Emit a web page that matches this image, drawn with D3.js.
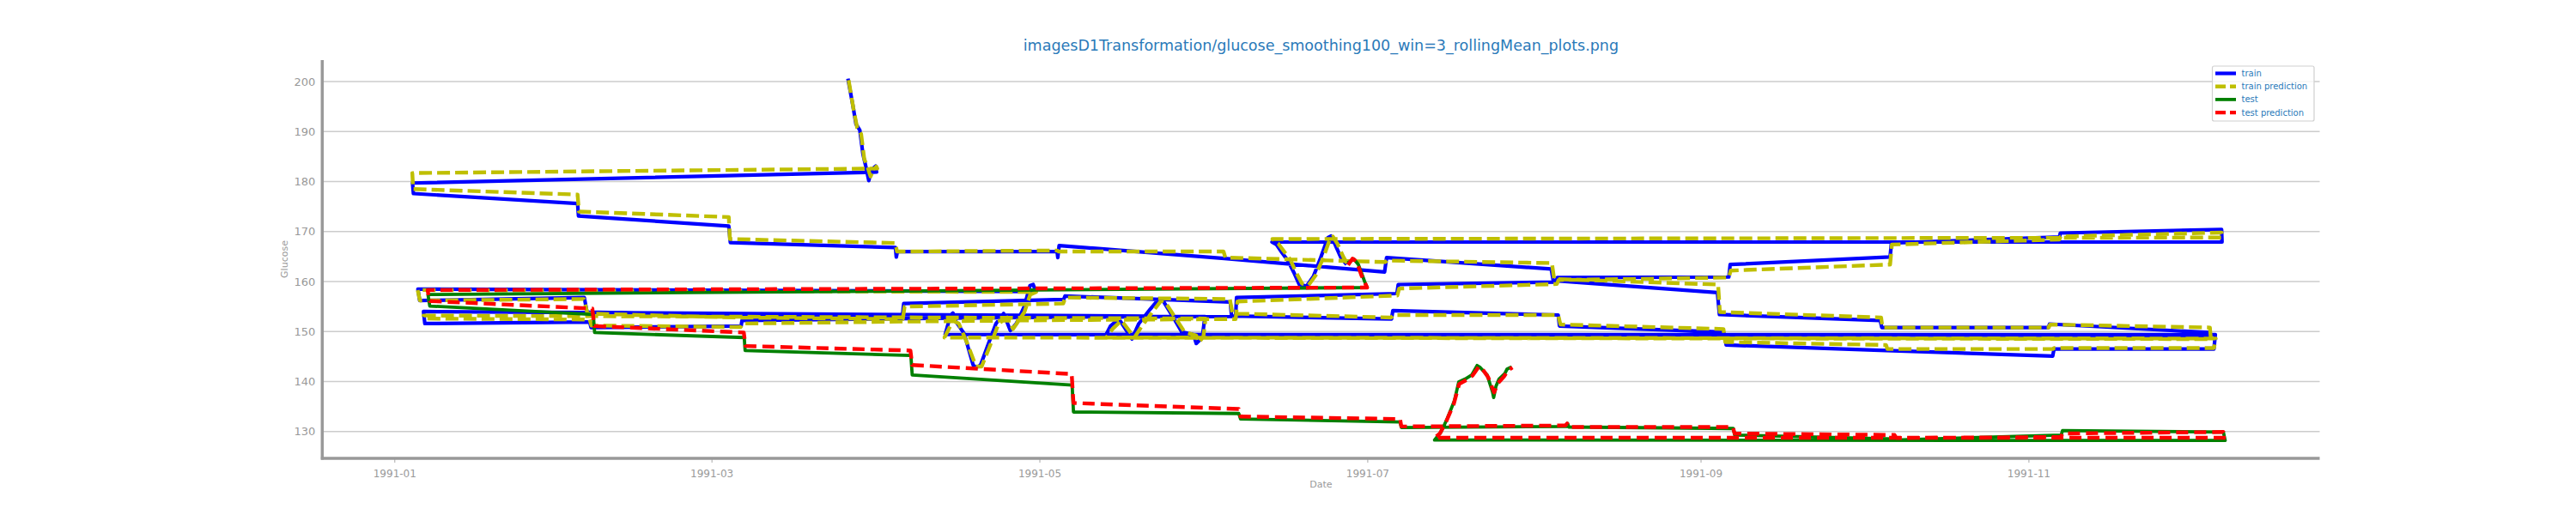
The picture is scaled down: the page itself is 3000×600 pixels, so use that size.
<!DOCTYPE html>
<html><head><meta charset="utf-8">
<script src="https://cdn.jsdelivr.net/npm/d3@7"></script>
<style>body{margin:0;background:#fff}svg{display:block}text{font-family:"DejaVu Sans",sans-serif}</style>
</head><body><svg id="c" width="3000" height="600"></svg>
<script>
const titleText = "imagesD1Transformation/glucose_smoothing100_win=3_rollingMean_plots.png";
const xLabel = "Date", yLabel = "Glucose";
const xDomain = ["1990-12-18 14", "1991-12-25 04"];
const yDomain = [124.63, 204.3];
const xTicks = ["1991-01-01 00","1991-03-01 00","1991-05-01 00","1991-07-01 00","1991-09-01 00","1991-11-01 00"];
const yTicks = [130,140,150,160,170,180,190,200];
const legendNames = ["train","train prediction","test","test prediction"];

const train = [
["1991-03-26 09",200.6],["1991-03-27 06",195.5],["1991-03-27 21",191.5],["1991-03-28 14",190.3],["1991-03-29 04",185.5],["1991-03-29 15",183.4],["1991-03-30 06",180.2],["1991-03-30 18",182.3],["1991-03-31 13",183.1],["1991-03-31 17",181.9],
["1991-01-04 09",179.7],["1991-01-04 13",177.6],["1991-02-04 02",175.6],["1991-02-04 06",173.1],["1991-03-04 05",171.1],["1991-03-04 12",167.8],["1991-04-04 05",166.8],["1991-04-04 09",164.9],["1991-04-04 14",166.0],["1991-05-04 07",166.0],["1991-05-04 10",164.8],["1991-05-04 16",167.2],["1991-06-04 10",164.6],["1991-07-04 05",161.9],["1991-07-04 14",164.8],["1991-08-04 05",162.5],["1991-08-04 14",160.2],["1991-09-04 03",157.8],["1991-09-04 12",153.4],["1991-10-04 10",152.2],["1991-10-04 17",150.8],["1991-11-04 17",150.8],["1991-11-04 22",151.5],["1991-12-04 17",149.8],["1991-12-04 20",149.2],
["1991-04-13 11",149.4],["1991-04-14 10",153.1],["1991-04-14 22",153.7],["1991-04-15 11",152.0],["1991-04-17 00",149.6],["1991-04-18 16",143.3],["1991-04-19 01",142.9],["1991-04-19 17",143.0],["1991-04-20 02",143.4],["1991-04-21 20",148.5],["1991-04-22 22",151.6],["1991-04-24 08",153.6],["1991-04-25 14",150.2],["1991-04-26 17",151.6],["1991-04-27 17",153.9],["1991-04-28 05",155.1],["1991-04-29 06",159.2],["1991-04-29 20",159.4],["1991-04-30 08",158.0],
["1991-01-05 09",158.5],["1991-01-05 17",156.2],["1991-02-05 08",156.8],["1991-02-05 20",153.9],["1991-03-05 12",153.3],["1991-04-05 12",153.0],["1991-04-05 18",155.6],["1991-05-05 12",156.4],["1991-05-05 18",157.1],["1991-06-05 12",155.9],["1991-06-05 18",153.1],["1991-07-05 12",152.5],["1991-07-05 18",154.2],["1991-08-05 12",153.3],["1991-08-05 18",151.1],["1991-09-05 06",149.9],["1991-09-05 12",149.3],["1991-09-05 18",147.3],["1991-10-05 12",146.2],["1991-11-05 12",145.1],["1991-11-05 18",146.5],["1991-12-05 12",146.5],["1991-12-05 18",149.4],
["1991-05-13 10",149.4],["1991-05-14 05",151.1],["1991-05-15 19",152.5],["1991-05-18 05",148.5],["1991-05-19 12",151.6],["1991-05-21 15",154.5],["1991-05-23 05",156.5],["1991-05-23 19",156.5],["1991-05-25 22",152.8],["1991-05-27 12",149.9],["1991-05-29 16",149.4],["1991-05-30 04",147.6],["1991-05-31 07",148.8],["1991-05-31 19",153.0],
["1991-01-06 10",154.0],["1991-01-06 16",151.6],["1991-02-06 08",151.9],["1991-02-06 14",150.8],["1991-03-06 12",151.1],["1991-03-06 16",152.2],["1991-04-06 12",152.6],["1991-05-06 12",152.9],["1991-06-06 12",153.0],["1991-06-06 16",156.8],["1991-07-06 12",157.6],["1991-07-06 18",159.4],["1991-08-05 03",159.9],["1991-08-05 08",160.8],["1991-09-06 06",160.9],["1991-09-06 12",163.4],["1991-10-06 06",164.9],["1991-10-06 12",167.7],["1991-11-06 18",168.9],["1991-11-06 22",169.7],["1991-12-06 22",170.4],["1991-12-07 00",167.9],
["1991-06-13 06",167.9],["1991-06-14 02",167.4],["1991-06-15 04",165.7],["1991-06-16 05",164.2],["1991-06-17 07",161.9],["1991-06-18 08",159.4],["1991-06-19 17",159.1],["1991-06-21 00",161.1],["1991-06-22 08",164.8],["1991-06-23 16",168.8],["1991-06-24 05",169.1],["1991-06-25 00",167.4],["1991-06-26 02",164.8],["1991-06-27 03",163.4]
];

const trainPred = [
["1991-03-26 12",200.3],["1991-03-27 10",194.5],["1991-03-28 02",190.8],["1991-03-28 20",189.5],["1991-03-29 10",184.5],["1991-03-30 00",183.0],["1991-03-30 14",181.0],["1991-03-31 02",182.3],["1991-03-31 16",183.0],["1991-03-31 20",182.6],
["1991-01-04 08",181.7],["1991-01-04 12",178.5],["1991-02-04 02",177.4],["1991-02-04 08",174.0],["1991-03-04 05",172.9],["1991-03-04 10",168.5],["1991-04-04 05",167.7],["1991-04-04 12",166.0],["1991-05-04 07",166.2],["1991-05-04 14",166.0],["1991-06-04 06",166.0],["1991-06-04 14",164.8],["1991-07-04 08",163.9],["1991-07-04 16",164.2],["1991-08-04 08",163.7],["1991-08-04 18",160.5],["1991-09-04 06",159.4],["1991-09-04 14",153.9],["1991-10-04 14",152.8],["1991-10-04 20",150.8],["1991-11-04 18",150.8],["1991-11-05 00",151.4],["1991-12-04 18",150.8],["1991-12-04 22",148.5],
["1991-04-13 08",148.8],["1991-04-14 22",152.2],["1991-04-16 00",151.6],["1991-04-17 14",147.6],["1991-04-19 05",143.0],["1991-04-20 06",143.0],["1991-04-22 10",148.8],["1991-04-23 10",151.6],["1991-04-25 00",152.8],["1991-04-26 02",150.5],["1991-04-28 05",153.9],["1991-04-29 07",157.4],["1991-04-30 09",157.9],
["1991-01-05 08",158.3],["1991-01-05 18",156.2],["1991-02-05 06",156.5],["1991-02-05 22",153.6],["1991-03-05 12",152.8],["1991-04-05 14",152.5],["1991-04-05 22",155.0],["1991-05-05 10",155.6],["1991-05-05 20",156.8],["1991-06-05 10",156.5],["1991-06-05 22",153.6],["1991-07-05 10",152.8],["1991-07-05 20",153.3],["1991-08-05 12",153.3],["1991-08-05 22",151.4],["1991-09-05 06",150.5],["1991-09-05 14",147.9],["1991-10-05 12",147.3],["1991-10-05 18",146.5],["1991-11-05 12",146.5],["1991-11-05 18",146.7],["1991-12-05 12",146.7],["1991-12-05 20",148.6],
["1991-05-13 10",148.8],["1991-05-14 14",150.5],["1991-05-16 06",152.2],["1991-05-18 16",148.8],["1991-05-20 00",151.0],["1991-05-22 02",154.0],["1991-05-23 16",156.2],["1991-05-24 08",156.0],["1991-05-26 10",152.5],["1991-05-28 00",149.9],["1991-05-30 04",149.2],["1991-05-30 16",147.8],["1991-05-31 12",149.0],["1991-05-31 22",152.6],
["1991-01-06 10",153.2],["1991-01-06 18",152.6],["1991-02-06 08",152.4],["1991-02-06 16",151.2],["1991-03-06 10",150.9],["1991-03-06 18",151.6],["1991-04-06 12",152.0],["1991-05-06 12",152.3],["1991-06-06 12",152.5],["1991-06-06 20",156.0],["1991-07-06 14",157.2],["1991-07-06 22",158.6],["1991-08-05 06",159.5],["1991-08-05 14",160.3],["1991-09-06 06",160.8],["1991-09-06 14",162.2],["1991-10-06 06",163.4],["1991-10-06 14",167.4],["1991-11-06 18",168.4],["1991-11-06 23",169.0],["1991-12-06 22",169.8],["1991-12-07 02",168.8],
["1991-06-13 08",168.5],["1991-06-14 10",167.6],["1991-06-15 14",165.9],["1991-06-16 16",164.4],["1991-06-17 16",162.0],["1991-06-18 20",159.6],["1991-06-20 02",159.3],["1991-06-21 10",161.3],["1991-06-22 18",164.6],["1991-06-24 00",168.4],["1991-06-24 14",169.0],["1991-06-25 10",167.6],["1991-06-26 12",165.0],["1991-06-27 06",163.6]
];

const test = [
["1991-06-27 08",163.7],["1991-06-28 12",164.5],["1991-06-29 08",163.4],["1991-06-30 12",160.0],["1991-06-30 23",158.8],
["1991-01-07 06",157.4],["1991-01-07 14",155.1],["1991-02-07 00",153.4],["1991-02-07 06",149.8],["1991-03-07 02",148.8],["1991-03-07 06",146.2],["1991-04-07 02",145.2],["1991-04-07 08",141.3],["1991-05-07 02",139.3],["1991-05-07 08",133.9],["1991-06-07 02",133.6],["1991-06-07 10",132.5],["1991-07-07 02",131.9],["1991-07-07 08",130.8],["1991-08-07 02",131.0],["1991-08-07 06",131.6],["1991-08-07 12",130.9],["1991-09-07 02",130.6],["1991-09-07 08",129.3],["1991-10-07 02",128.5],["1991-10-07 08",128.3],["1991-11-07 02",129.3],["1991-11-07 08",130.2],["1991-12-07 06",129.9],["1991-12-07 14",128.2],
["1991-07-13 12",128.3],["1991-07-14 17",129.9],["1991-07-15 22",132.7],["1991-07-17 05",136.2],["1991-07-18 00",139.9],["1991-07-19 05",140.5],["1991-07-20 10",141.3],["1991-07-21 10",143.2],["1991-07-22 00",142.8],["1991-07-23 07",141.3],["1991-07-24 07",137.9],["1991-07-24 12",136.8],["1991-07-24 22",139.0],["1991-07-25 12",140.5],["1991-07-26 14",141.6],["1991-07-27 00",142.5],["1991-07-27 20",142.9]
];

const testPred = [
["1991-06-27 10",163.3],["1991-06-28 06",164.6],["1991-06-29 00",164.0],["1991-06-29 22",161.2],["1991-06-30 23",158.8],
["1991-01-07 04",158.3],["1991-01-07 14",156.1],["1991-02-06 20",154.6],["1991-02-07 04",151.1],["1991-03-07 00",149.8],["1991-03-07 08",147.1],["1991-04-07 00",146.2],["1991-04-07 08",143.3],["1991-05-07 00",141.5],["1991-05-07 08",135.7],["1991-06-07 02",134.5],["1991-06-07 10",133.0],["1991-07-07 02",132.5],["1991-07-07 08",131.0],["1991-08-06 20",131.2],["1991-08-07 04",131.6],["1991-08-07 10",130.9],["1991-09-07 00",130.9],["1991-09-07 08",129.6],["1991-10-07 02",129.3],["1991-10-07 10",128.7],["1991-11-07 00",128.9],["1991-11-07 08",129.6],["1991-12-07 06",129.9],["1991-12-07 16",129.3],["1991-12-07 18",128.75],
["1991-07-13 12",128.75],["1991-07-14 12",129.6],["1991-07-15 16",132.0],["1991-07-17 02",135.5],["1991-07-18 02",139.5],["1991-07-19 10",140.3],["1991-07-20 14",141.2],["1991-07-21 18",143.0],["1991-07-22 08",142.6],["1991-07-23 12",140.8],["1991-07-24 14",137.8],["1991-07-25 06",139.6],["1991-07-26 10",141.0],["1991-07-27 06",142.3],["1991-07-28 00",142.8]
];

const parse = d3.utcParse("%Y-%m-%d %H");
const svg = d3.select("#c");
const L = 375.3, R = 2701.5, T = 70, B = 534;
const x = d3.scaleUtc().domain(xDomain.map(parse)).range([L, R]);
const y = d3.scaleLinear().domain(yDomain).range([B, T]);

// grid
svg.append("g").selectAll("line").data(yTicks).join("line")
  .attr("x1", L).attr("x2", R).attr("y1", d => y(d)).attr("y2", d => y(d))
  .attr("stroke", "#cccccc").attr("stroke-width", 1.6);

// axes
const gx = svg.append("g").attr("transform", `translate(0,${B})`)
  .call(d3.axisBottom(x).tickValues(xTicks.map(parse)).tickFormat(d3.utcFormat("%Y-%m")).tickSize(5).tickPadding(8));
gx.select(".domain").remove();
gx.selectAll("line").attr("stroke", "#aaaaaa");
gx.selectAll("text").attr("fill", "#999999").style("font-size", "12px").style("font-family", "DejaVu Sans");

const gy = svg.append("g").attr("transform", `translate(${L},0)`)
  .call(d3.axisLeft(y).tickValues(yTicks).tickSize(0).tickPadding(8));
gy.select(".domain").remove();
gy.selectAll("text").attr("fill", "#999999").style("font-size", "13px").style("font-family", "DejaVu Sans");

// series
const line = d3.line().x(d => x(parse(d[0]))).y(d => y(d[1]));
const series = [
  {data: train, color: "#0000ff", w: 4.2, dash: null},
  {data: trainPred, color: "#bfbf00", w: 4.4, dash: "15,6"},
  {data: test, color: "#008000", w: 3.8, dash: null},
  {data: testPred, color: "#ff0000", w: 4.4, dash: "14,7"}
];
const plot = svg.append("g");
series.forEach(s => {
  plot.append("path").attr("d", line(s.data)).attr("fill", "none")
    .attr("stroke", s.color).attr("stroke-width", s.w)
    .attr("stroke-linejoin", "round")
    .attr("stroke-dasharray", s.dash);
});

// spines
svg.append("line").attr("x1", L).attr("x2", L).attr("y1", T).attr("y2", B + 1.5).attr("stroke", "#999999").attr("stroke-width", 3.5);
svg.append("line").attr("x1", L - 1.5).attr("x2", R).attr("y1", B).attr("y2", B).attr("stroke", "#999999").attr("stroke-width", 3.5);

// labels
svg.append("text").attr("x", (L + R) / 2).attr("y", 59).attr("text-anchor", "middle")
  .attr("fill", "#2a7ab9").style("font-size", "17.5px").text(titleText);
svg.append("text").attr("x", (L + R) / 2).attr("y", 568).attr("text-anchor", "middle")
  .attr("fill", "#999999").style("font-size", "11px").text(xLabel);
svg.append("text").attr("transform", `translate(335,${(T + B) / 2}) rotate(-90)`).attr("text-anchor", "middle")
  .attr("fill", "#999999").style("font-size", "11px").text(yLabel);

// legend
const lg = svg.append("g");
lg.append("rect").attr("x", 2576.5).attr("y", 77).attr("width", 118.5).attr("height", 64).attr("rx", 2)
  .attr("fill", "#ffffff").attr("fill-opacity", 0.8).attr("stroke", "#d0d0d0").attr("stroke-width", 1.2);
legendNames.forEach((n, i) => {
  const s = series[i], yy = 85.5 + i * 15.2;
  lg.append("line").attr("x1", 2580).attr("x2", 2604).attr("y1", yy).attr("y2", yy)
    .attr("stroke", s.color).attr("stroke-width", s.w).attr("stroke-dasharray", s.dash ? "12,5" : null);
  lg.append("text").attr("x", 2610.5).attr("y", yy + 3.5).attr("fill", "#2a7ab9").style("font-size", "10px").text(n);
});
</script></body></html>
